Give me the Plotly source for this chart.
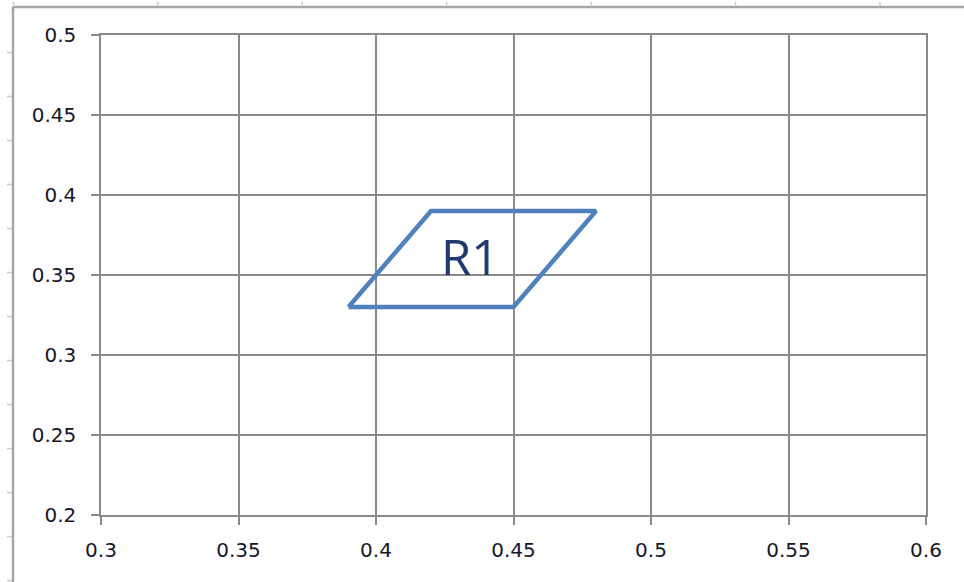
import plotly.graph_objects as go

# Data: parallelogram R1 vertices (closed)
shape_x = [0.39, 0.45, 0.48, 0.42, 0.39]
shape_y = [0.33, 0.33, 0.39, 0.39, 0.33]
label_text = ["R1"]
label_x = [0.434]
label_y = [0.362]

x_ticks = [0.3, 0.35, 0.4, 0.45, 0.5, 0.55, 0.6]
x_tick_labels = ["0.3", "0.35", "0.4", "0.45", "0.5", "0.55", "0.6"]
y_ticks = [0.2, 0.25, 0.3, 0.35, 0.4, 0.45, 0.5]
y_tick_labels = ["0.2", "0.25", "0.3", "0.35", "0.4", "0.45", "0.5"]

W, H = 964, 582
grid_col = "#8a8a8a"
font_col = "#16162a"

fig = go.Figure()
fig.add_trace(go.Scatter(
    x=shape_x, y=shape_y, mode="lines",
    line=dict(color="#4F81BD", width=4.5),
    hoverinfo="skip", showlegend=False,
))
for t, lx, ly in zip(label_text, label_x, label_y):
    fig.add_annotation(x=lx, y=ly, text=t, showarrow=False,
                       font=dict(size=49, color="#1F3A6E", family="Open Sans"))

axis_common = dict(
    showgrid=True, gridcolor=grid_col, gridwidth=1.5,
    showline=True, linecolor=grid_col, linewidth=1.5, mirror=True,
    ticks="outside", ticklen=8, tickcolor=grid_col, tickwidth=1.5,
    zeroline=False, tickfont=dict(size=20, color=font_col, family="DejaVu Sans"),
    fixedrange=True,
)
fig.update_xaxes(range=[0.3, 0.6], tickvals=x_ticks, ticktext=x_tick_labels,
                 ticklabelstandoff=8, **axis_common)
fig.update_yaxes(range=[0.2, 0.5], tickvals=y_ticks, ticktext=y_tick_labels,
                 ticklabelstandoff=11, **axis_common)

L, R, T, B = 101, 926, 34.5, 515.5

def px_to_paper_x(px):
    return (px - L) / (R - L)

def px_to_paper_y(py):
    return (B - py) / (B - T)

# Outer frame of the screenshot (decorative)
shapes = []
frame_col = "#a6a6a6"
shapes.append(dict(type="line", xref="paper", yref="paper",
                   x0=px_to_paper_x(13), x1=px_to_paper_x(966),
                   y0=px_to_paper_y(6.5), y1=px_to_paper_y(6.5),
                   line=dict(color=frame_col, width=2.5)))
shapes.append(dict(type="line", xref="paper", yref="paper",
                   x0=px_to_paper_x(13), x1=px_to_paper_x(13),
                   y0=px_to_paper_y(6), y1=px_to_paper_y(584),
                   line=dict(color=frame_col, width=2.5)))
tick_col = "#c8cde0"
for k in range(13):
    py = 52 + 44.1 * k
    shapes.append(dict(type="line", xref="paper", yref="paper",
                       x0=px_to_paper_x(7), x1=px_to_paper_x(12),
                       y0=px_to_paper_y(py), y1=px_to_paper_y(py),
                       line=dict(color=tick_col, width=1.5)))
for k in range(7):
    px = 13.5 + 144.4 * k
    shapes.append(dict(type="line", xref="paper", yref="paper",
                       x0=px_to_paper_x(px), x1=px_to_paper_x(px),
                       y0=px_to_paper_y(1), y1=px_to_paper_y(5),
                       line=dict(color=tick_col, width=1.5)))

fig.update_layout(
    width=W, height=H,
    margin=dict(l=L, r=W - R, t=T, b=H - B, autoexpand=False),
    paper_bgcolor="white", plot_bgcolor="white",
    shapes=shapes, showlegend=False,
)

fig.write_html("out.html", config={"displayModeBar": False},
               post_script="document.body.style.margin='0';document.body.style.overflow='hidden';")
